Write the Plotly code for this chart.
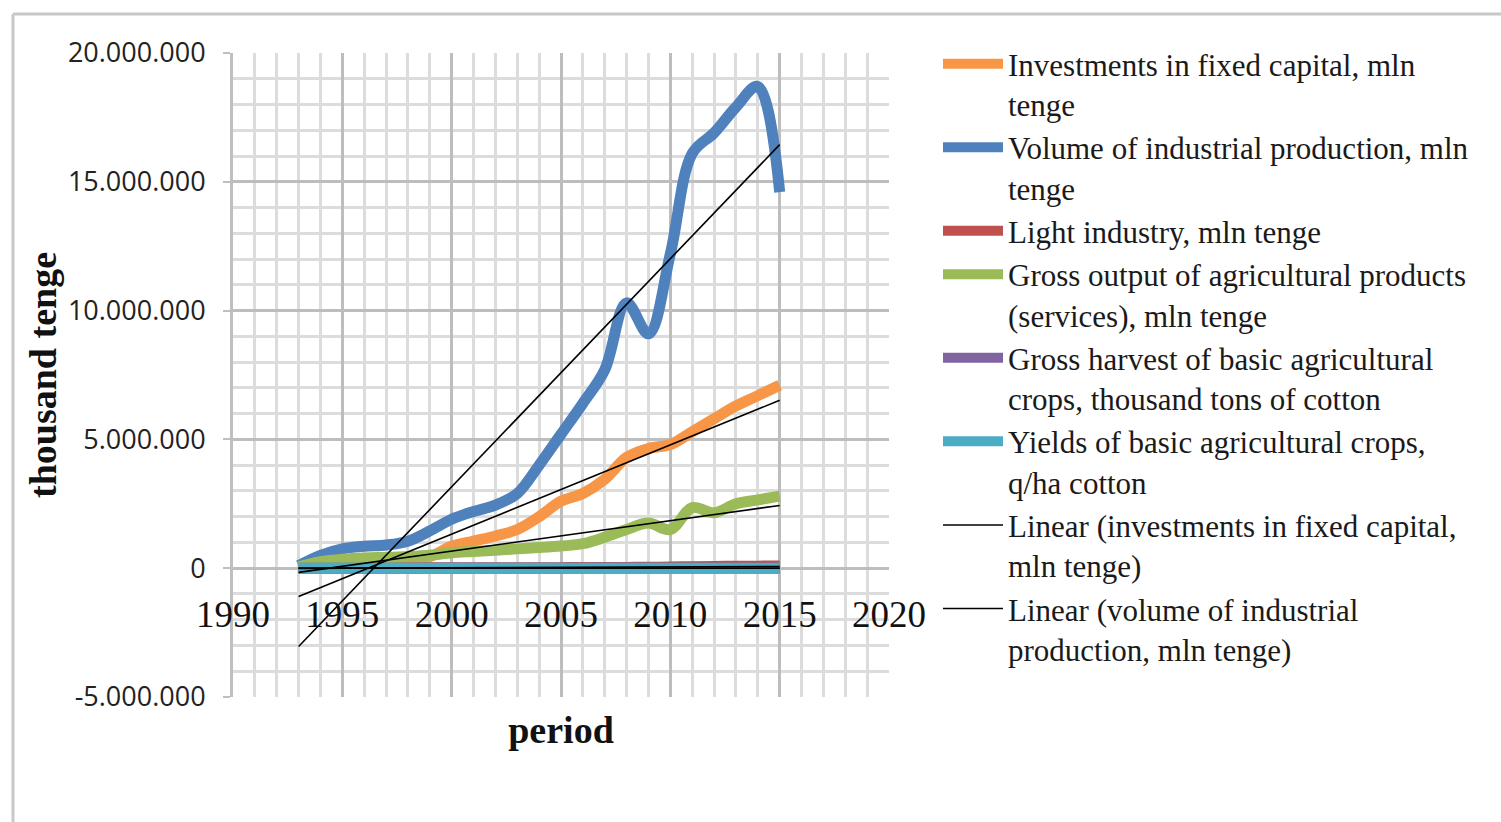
import numpy as np
import plotly.graph_objects as go

# ---- data -------------------------------------------------------------
years = list(range(1993, 2016))

investments = [0.05e6, 0.15e6, 0.20e6, 0.25e6, 0.30e6, 0.35e6, 0.45e6, 0.85e6,
               1.05e6, 1.25e6, 1.50e6, 2.00e6, 2.60e6, 2.90e6, 3.45e6, 4.30e6,
               4.65e6, 4.80e6, 5.30e6, 5.80e6, 6.30e6, 6.70e6, 7.10e6]

industrial = [0.10e6, 0.50e6, 0.75e6, 0.85e6, 0.90e6, 1.05e6, 1.45e6, 1.90e6,
              2.20e6, 2.45e6, 2.90e6, 4.00e6, 5.20e6, 6.40e6, 7.70e6, 10.30e6,
              9.10e6, 12.20e6, 16.10e6, 16.90e6, 17.90e6, 18.70e6, 14.60e6]

light_industry = [8e3, 9e3, 10e3, 10e3, 11e3, 12e3, 13e3, 14e3, 15e3, 16e3,
                  18e3, 20e3, 22e3, 25e3, 28e3, 32e3, 36e3, 45e3, 60e3, 70e3,
                  75e3, 80e3, 85e3]

agri_output = [0.05e6, 0.25e6, 0.35e6, 0.40e6, 0.42e6, 0.45e6, 0.50e6, 0.60e6,
               0.65e6, 0.70e6, 0.75e6, 0.80e6, 0.86e6, 0.95e6, 1.20e6, 1.50e6,
               1.75e6, 1.50e6, 2.35e6, 2.15e6, 2.50e6, 2.65e6, 2.80e6]

cotton_harvest = [310, 300, 320, 300, 290, 280, 290, 300, 330, 350, 380, 420,
                  430, 400, 390, 370, 350, 310, 330, 340, 320, 300, 280]

cotton_yield = [22, 21, 20, 19, 19, 20, 21, 22, 23, 24, 25, 25,
                26, 24, 24, 23, 23, 22, 24, 25, 26, 25, 26]

series_names = [
    "Investments in fixed capital, mln<br>tenge",
    "Volume of industrial production, mln<br>tenge",
    "Light industry, mln tenge",
    "Gross output of agricultural products<br>(services), mln tenge",
    "Gross harvest of basic agricultural<br>crops, thousand tons of cotton",
    "Yields of basic agricultural crops,<br>q/ha cotton",
]
trend_names = [
    "Linear (investments in fixed capital,<br>mln tenge)",
    "Linear (volume of industrial<br>production, mln tenge)",
]
series_colors = ["#F79646", "#4F81BD", "#C0504D", "#9BBB59", "#8064A2", "#4BACC6"]

x_tick_vals = [1990, 1995, 2000, 2005, 2010, 2015, 2020]
x_tick_text = ["1990", "1995", "2000", "2005", "2010", "2015", "2020"]
y_tick_vals = [-5e6, 0, 5e6, 10e6, 15e6, 20e6]
y_tick_text = ["-5.000.000", "0", "5.000.000", "10.000.000", "15.000.000", "20.000.000"]

all_series = [investments, industrial, light_industry, agri_output,
              cotton_harvest, cotton_yield]

# ---- figure -----------------------------------------------------------
fig = go.Figure()

for name, values, color in zip(series_names, all_series, series_colors):
    fig.add_trace(go.Scatter(
        x=years, y=values, name=name, mode="lines",
        line=dict(color=color, width=11, shape="spline", smoothing=1),
    ))


def linear_trend(values):
    coef = np.polyfit(years, values, 1)
    return np.polyval(coef, years)


# least-squares trend lines
fig.add_trace(go.Scatter(x=years, y=linear_trend(investments), name=trend_names[0],
                         mode="lines", line=dict(color="black", width=1.6)))
fig.add_trace(go.Scatter(x=years, y=linear_trend(industrial), name=trend_names[1],
                         mode="lines", line=dict(color="black", width=1.6)))
for values in (agri_output, light_industry, cotton_harvest, cotton_yield):
    fig.add_trace(go.Scatter(x=years, y=linear_trend(values), mode="lines",
                             showlegend=False, line=dict(color="black", width=1.6)))

L, R, T, B = 233, 612, 53, 125
W, H = 1501, 822
pw, ph = W - L - R, H - T - B


def px_x(px):
    return (px - L) / pw


def px_y(py):
    return (H - B - py) / ph


frame_color = "#c8c8c8"
shapes = [
    dict(type="line", xref="paper", yref="paper", x0=px_x(13), x1=px_x(W + 5),
         y0=px_y(14), y1=px_y(14), line=dict(color=frame_color, width=3)),
    dict(type="line", xref="paper", yref="paper", x0=px_x(13), x1=px_x(13),
         y0=px_y(14), y1=px_y(H + 5), line=dict(color=frame_color, width=3)),
]

major_grid = "#bdbdbd"
minor_grid = "#dcdcdc"

fig.update_layout(
    width=W, height=H,
    margin=dict(l=L, r=R, t=T, b=B),
    paper_bgcolor="white", plot_bgcolor="white",
    font=dict(family="Liberation Serif", color="#1a1a1a"),
    showlegend=True,
    legend=dict(
        x=px_x(938), y=px_y(37), xanchor="left", yanchor="top",
        font=dict(family="Liberation Serif", size=31, color="#1a1a1a"),
        bgcolor="rgba(0,0,0,0)", tracegroupgap=0, itemwidth=60,
        valign="top", maxheight=900,
    ),
    shapes=shapes,
    xaxis=dict(
        range=[1990, 2020], anchor="free", position=0.2,
        tickvals=x_tick_vals, ticktext=x_tick_text,
        tickfont=dict(family="Liberation Serif", size=37, color="#111"),
        ticks="", ticklabelstandoff=21,
        showgrid=True, gridcolor=major_grid, gridwidth=3,
        minor=dict(dtick=1, showgrid=True, gridcolor=minor_grid, gridwidth=3),
        zeroline=False, showline=False,
        title=dict(text="<b>period</b>", standoff=82,
                   font=dict(family="Liberation Serif", size=38, color="#111")),
    ),
    yaxis=dict(
        range=[-5e6, 20e6],
        tickvals=y_tick_vals, ticktext=y_tick_text,
        tickfont=dict(family="Open Sans", size=27, color="#222"),
        ticks="outside", ticklen=7, tickcolor="#bfbfbf", tickwidth=2,
        ticklabelstandoff=12,
        showgrid=True, gridcolor=major_grid, gridwidth=3,
        minor=dict(dtick=1e6, showgrid=True, gridcolor=minor_grid, gridwidth=3),
        zeroline=False, showline=True, linecolor="#bfbfbf", linewidth=3,
        title=dict(text="<b>thousand tenge</b>", standoff=0,
                   font=dict(family="Liberation Serif", size=38, color="#111")),
    ),
)

fig.write_html("out.html")
